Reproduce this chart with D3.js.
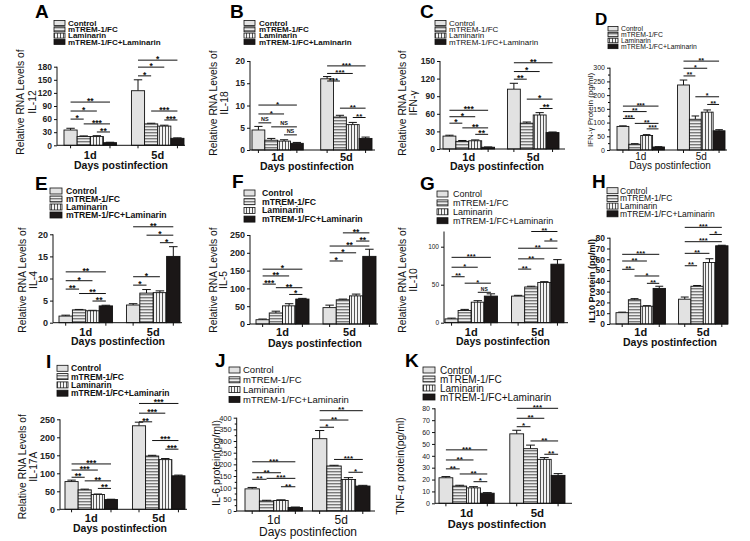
<!DOCTYPE html>
<html><head><meta charset="utf-8">
<script src="https://cdn.jsdelivr.net/npm/d3@7"></script>
<style>body{margin:0;background:#fff}svg{display:block}</style>
</head><body>
<svg id="c" width="750" height="541"></svg>
<script>
// ---------- DATA ----------
const days = ["1d", "5d"];
const seriesNames = ["Control", "mTREM-1/FC", "Laminarin", "mTREM-1/FC+Laminarin"];

// values ordered: 1d (Control, mTREM, Laminarin, Combo), 5d (same)
const il12Mean = [35, 20, 20, 6, 125, 49, 44, 16];
const il12Err  = [4, 1.5, 2, 1, 25, 1.5, 2, 1];
const il12Ticks = [0, 30, 60, 90, 120, 150, 180];
const il12Sig = [[0,0,1,60,"*"],[0,0,2,78.5,"*"],[0,0,3,99,"**"],[0,1,3,49,"***"],[0,2,3,30.5,"**"],
                 [1,0,1,159,"*"],[1,0,2,179,"*"],[1,0,3,195,"*"],[1,1,3,78.5,"***"],[1,2,3,58,"***"]];

const il18Mean = [4.5, 2.2, 2.0, 1.5, 16, 7.4, 5.7, 2.6];
const il18Err  = [0.8, 0.4, 0.3, 0.2, 0.5, 0.4, 0.5, 0.3];
const il18Ticks = [0, 5, 10, 15, 20];
const il18Sig = [[0,0,3,10.1,"*"],[0,0,2,8.1,"*"],[0,0,1,6.1,"NS"],[0,1,3,5.2,"NS"],[0,2,3,3.4,"NS"],
                 [1,0,3,18.9,"***"],[1,0,2,17.2,"***"],[1,0,1,15.5,"***"],[1,1,3,9.4,"**"],[1,2,3,7.3,"**"]];

const ifngMean = [22, 13, 14, 3, 102, 44, 58, 28];
const ifngErr  = [1.5, 1.5, 1.5, 0.5, 10, 2, 4, 1];
const ifngTicks = [0, 30, 60, 90, 120, 150];
const ifngSig = [[0,0,3,66,"***"],[0,0,2,55,"*"],[0,0,1,44,"*"],[0,1,3,36,"**"],[0,2,3,25,"**"],
                 [1,0,3,147,"**"],[1,0,2,132,"*"],[1,0,1,119,"**"],[1,1,3,85,"*"],[1,2,3,69,"**"]];

const ifngProtMean = [86, 21, 53, 11, 237, 112, 138, 70];
const ifngProtErr  = [2, 2, 3, 1, 18, 12, 8, 4];
const ifngProtTicks = [0, 50, 100, 150, 200, 250, 300];
const ifngProtMinor = [25, 75, 125, 175, 225, 275];
const ifngProtSig = [[0,0,3,160,"***"],[0,0,2,140,"**"],[0,0,1,115,"***"],[0,1,3,97,"**"],[0,2,3,77,"***"],
                     [1,0,3,324,"**"],[1,0,2,298,"*"],[1,0,1,270,"**"],[1,1,3,194,"*"],[1,2,3,166,"**"]];

const il4Mean = [1.5, 2.9, 2.7, 3.8, 4.0, 6.7, 6.8, 15];
const il4Err  = [0.2, 0.1, 0.1, 0.15, 0.3, 0.8, 0.4, 2.2];
const il4Ticks = [0, 5, 10, 15, 20];
const il4Sig = [[0,0,3,11.5,"**"],[0,0,2,9.5,"*"],[0,0,1,7.6,"**"],[0,1,3,6.6,"**"],[0,2,3,4.9,"**"],
                [1,0,3,21.7,"**"],[1,1,3,19.8,"*"],[1,2,3,18.1,"*"],[1,0,2,10.4,"*"],[1,0,1,8.5,"*"]];

const il5Mean = [12, 31, 51, 70, 46, 68, 79, 190];
const il5Err  = [2, 5, 6, 2, 7, 2, 5, 20];
const il5Ticks = [0, 50, 100, 150, 200, 250];
const il5Sig = [[0,0,3,154,"*"],[0,0,2,135,"**"],[0,0,1,112,"***"],[0,1,3,102,"**"],[0,2,3,83,"*"],
                [1,1,3,256,"**"],[1,2,3,233,"**"],[1,0,3,219,"**"],[1,0,2,200,"*"],[1,0,1,177,"*"]];

const il10Mean = [5, 16, 27, 35, 35, 47, 53, 77];
const il10Err  = [1, 1.5, 2, 3, 1, 1, 1, 6];
const il10Ticks = [0, 50, 100];
const il10Sig = [[0,0,3,86,"***"],[0,0,2,73,"*"],[0,0,1,60.5,"**"],[0,1,3,52,"*"],[0,2,3,40,"NS"],
                 [1,1,3,120,"**"],[1,2,3,107.5,"*"],[1,0,3,98,"**"],[1,0,2,84,"**"],[1,0,1,70.5,"**"]];

const il10ProtMean = [10.5, 22.5, 16.5, 33, 23, 35, 57, 72.5];
const il10ProtErr  = [0.5, 1, 0.5, 2, 2, 0.7, 3.5, 0.5];
const il10ProtTicks = [0, 10, 20, 30, 40, 50, 60, 70, 80];
const il10ProtSig = [[0,0,3,64.6,"***"],[0,0,2,58.4,"**"],[0,0,1,50.7,"**"],[0,1,3,44.5,"*"],[0,2,3,37.7,"**"],
                     [1,0,3,89.6,"***"],[1,2,3,83,"*"],[1,0,3,76.3,"***"],[1,0,2,65.5,"**"],[1,0,1,54,"**"]];

const il17Mean = [77, 54, 41, 27, 232, 148, 138, 93];
const il17Err  = [4, 2, 1.5, 1, 10, 2, 3, 2];
const il17Ticks = [0, 50, 100, 150, 200, 250];
const il17Sig = [[0,0,3,126,"***"],[0,0,2,109,"***"],[0,0,1,89,"**"],[0,1,3,79,"**"],[0,2,3,58,"**"],
                 [1,0,3,294,"***"],[1,0,2,267,"***"],[1,0,1,243,"**"],[1,1,3,191,"***"],[1,2,3,167,"***"]];

const il6Mean = [95, 43, 45, 15, 310, 193, 135, 107];
const il6Err  = [6, 3, 3, 2, 35, 3, 8, 3];
const il6Ticks = [0, 50, 100, 150, 200, 250, 300, 350, 400];
const il6Minor = [25, 75, 125, 175, 225, 275, 325, 375];
const il6Sig = [[0,0,3,211,"***"],[0,0,2,164,"**"],[0,0,1,136,"**"],[0,1,3,140,"***"],[0,2,3,104,"**"],
                [1,0,3,430,"**"],[1,0,2,390,"**"],[1,0,1,359,"*"],[1,1,3,221,"***"],[1,2,3,166,"*"]];

const tnfMean = [21.5, 14.5, 13, 8.5, 58.5, 46, 37, 23.5];
const tnfErr  = [1, 0.7, 1, 0.5, 3, 3, 1.5, 1.5];
const tnfTicks = [0, 10, 20, 30, 40, 50, 60, 70, 80];
const tnfSig = [[0,0,3,45,"***"],[0,0,2,36.5,"**"],[0,0,1,29,"**"],[0,1,3,24.7,"**"],[0,2,3,18.2,"*"],
                [1,0,3,80,"***"],[1,0,2,71.6,"**"],[1,0,1,64.5,"*"],[1,1,3,52.5,"**"],[1,2,3,41.3,"**"]];

// ---------- LAYOUT ----------
const FONT = "'Liberation Sans', Arial, Helvetica, sans-serif";
const panels = [
 {L:"A", lp:[35,18,19], leg:{x:54,y:23,dy:6.3,w:11,h:5,tx:68,fs:8,fw:"bold"},
  ax:57, xEnd:185, yTop:66.7, yZero:145.3, tickTop:180, axisTop:180, g1:[64,117], g2:[132,184], tfs:8.5, tfw:"bold",
  yl:{lines:["Relative RNA Levels of","IL-12"], xs:[20.5,32], cy:102, fs:10.3, fw:"normal"},
  xl:{by:159, fs:11, fw:"bold", dpx:121, dpy:169, dfs:10.5}, sfs:8.5,
  mean:il12Mean, err:il12Err, ticks:il12Ticks, minor:[], sig:il12Sig},
 {L:"B", lp:[230,18,19], leg:{x:244,y:23,dy:6.3,w:11,h:5,tx:259,fs:8,fw:"bold"},
  ax:250, xEnd:375, yTop:61, yZero:150, tickTop:20, axisTop:20, g1:[252,305], g2:[323,372], tfs:8.5, tfw:"bold",
  yl:{lines:["Relative RNA Levels of","IL-18"], xs:[213,224], cy:103, fs:10.3, fw:"normal"},
  xl:{by:160.5, fs:11, fw:"bold", dpx:307, dpy:169.5, dfs:10.5}, sfs:8,
  mean:il18Mean, err:il18Err, ticks:il18Ticks, minor:[], sig:il18Sig},
 {L:"C", lp:[420,18,19], leg:{x:435,y:23,dy:6.3,w:11,h:5,tx:449,fs:8,fw:"normal"},
  ax:440, xEnd:565, yTop:61, yZero:149, tickTop:150, axisTop:150, g1:[443,495], g2:[508,559], tfs:8.5, tfw:"bold",
  yl:{lines:["Relative RNA Levels of","IFN-γ"], xs:[402,413], cy:103, fs:10.3, fw:"normal"},
  xl:{by:160.5, fs:11, fw:"bold", dpx:497, dpy:169.5, dfs:10.5}, sfs:8.5,
  mean:ifngMean, err:ifngErr, ticks:ifngTicks, minor:[], sig:ifngSig},
 {L:"D", lp:[595,25,17], leg:{x:608,y:28.7,dy:5.9,w:10,h:4.5,tx:621,fs:6.8,fw:"normal"},
  ax:610, xEnd:727, yTop:67.7, yZero:150, tickTop:300, axisTop:300, g1:[617,664], g2:[677,725], tfs:7, tfw:"normal",
  yl:{lines:["IFN-γ  Protein (pg/ml)"], xs:[590], cy:110, fs:8, fw:"normal"},
  xl:{by:160, fs:10, fw:"normal", dpx:670, dpy:169, dfs:10}, sfs:7,
  mean:ifngProtMean, err:ifngProtErr, ticks:ifngProtTicks, minor:ifngProtMinor, sig:ifngProtSig},
 {L:"E", lp:[35,190,19], leg:{x:50,y:191,dy:8,w:12,h:6,tx:66,fs:8.7,fw:"bold"},
  ax:53, xEnd:182, yTop:234.3, yZero:322.7, tickTop:20, axisTop:20, g1:[59,113], g2:[127,180], tfs:9, tfw:"bold",
  yl:{lines:["Relative RNA Levels of","IL-4"], xs:[22,33], cy:280, fs:10.3, fw:"normal"},
  xl:{by:335.5, fs:11, fw:"bold", dpx:118, dpy:344.5, dfs:10.5}, sfs:8.5,
  mean:il4Mean, err:il4Err, ticks:il4Ticks, minor:[], sig:il4Sig},
 {L:"F", lp:[232,188,19], leg:{x:244,y:193,dy:8.7,w:11,h:6,tx:262,fs:8.7,fw:"bold"},
  ax:250, xEnd:378, yTop:235, yZero:324, tickTop:250, axisTop:250, g1:[256,309], g2:[323,376], tfs:9, tfw:"bold",
  yl:{lines:["Relative RNA Levels of","IL-5"], xs:[213,223], cy:280, fs:10.3, fw:"normal"},
  xl:{by:336, fs:11, fw:"bold", dpx:315, dpy:346.5, dfs:10.5}, sfs:8.5,
  mean:il5Mean, err:il5Err, ticks:il5Ticks, minor:[], sig:il5Sig},
 {L:"G", lp:[420,190,19], leg:{x:437,y:194,dy:8.9,w:11,h:6,tx:453,fs:9,fw:"normal"},
  ax:444, xEnd:568, yTop:246.7, yZero:322.7, tickTop:100, axisTop:120, g1:[445,497], g2:[511,564], tfs:6.5, tfw:"normal",
  yl:{lines:["Relative RNA Levels of","IL-10"], xs:[402,413], cy:280, fs:10.3, fw:"normal"},
  xl:{by:335.5, fs:11, fw:"bold", dpx:503, dpy:345, dfs:10.5}, sfs:7.5,
  mean:il10Mean, err:il10Err, ticks:il10Ticks, minor:[], sig:il10Sig},
 {L:"H", lp:[592,188,19], leg:{x:607,y:190.7,dy:7.7,w:11,h:6,tx:620,fs:8.5,fw:"normal"},
  ax:610, xEnd:728, yTop:237.7, yZero:324, tickTop:80, axisTop:80, g1:[616,665], g2:[678,728], tfs:8.5, tfw:"bold",
  yl:{lines:["IL10 Protein (pg/ml)"], xs:[592], cy:281, fs:9, fw:"bold"},
  xl:{by:335.5, fs:11, fw:"bold", dpx:670, dpy:346, dfs:10.5}, sfs:7.5,
  mean:il10ProtMean, err:il10ProtErr, ticks:il10ProtTicks, minor:[], sig:il10ProtSig},
 {L:"I", lp:[46,368,19], leg:{x:57,y:368.3,dy:8.3,w:11,h:6,tx:71,fs:8.5,fw:"bold"},
  ax:60, xEnd:187, yTop:419.3, yZero:509.3, tickTop:250, axisTop:250, g1:[65,118], g2:[133,185], tfs:9, tfw:"bold",
  yl:{lines:["Relative RNA Levels of","IL-17A"], xs:[22,33], cy:466.7, fs:10.3, fw:"normal"},
  xl:{by:521.5, fs:11, fw:"bold", dpx:120, dpy:532, dfs:10.5}, sfs:8.5,
  mean:il17Mean, err:il17Err, ticks:il17Ticks, minor:[], sig:il17Sig},
 {L:"J", lp:[215,367,19], leg:{x:229,y:370,dy:9.8,w:11,h:6,tx:243,fs:9.5,fw:"normal"},
  ax:236.7, xEnd:375, yTop:417.7, yZero:511, tickTop:400, axisTop:400, g1:[245,303], g2:[313,370], tfs:7.5, tfw:"normal",
  yl:{lines:["IL-6 protein(pg/ml)"], xs:[216.7], cy:463, fs:10.5, fw:"normal"},
  xl:{by:524, fs:12, fw:"normal", dpx:308, dpy:536, dfs:12}, sfs:8,
  mean:il6Mean, err:il6Err, ticks:il6Ticks, minor:il6Minor, sig:il6Sig},
 {L:"K", lp:[405,367,19], leg:{x:423,y:370,dy:9,w:12,h:6,tx:440,fs:10,fw:"normal"},
  ax:435, xEnd:572, yTop:408.3, yZero:503.3, tickTop:80, axisTop:80, g1:[439,492], g2:[507,565], tfs:7, tfw:"normal",
  yl:{lines:["TNF-α  protein(pg/ml)"], xs:[400], cy:466, fs:10.5, fw:"normal"},
  xl:{by:516.5, fs:11.5, fw:"bold", dpx:497, dpy:528, dfs:11}, sfs:8,
  mean:tnfMean, err:tnfErr, ticks:tnfTicks, minor:[], sig:tnfSig}
];

// ---------- DRAW ----------
const svg = d3.select("#c").style("font-family", FONT);
svg.append("rect").attr("width",750).attr("height",541).attr("fill","#fff");
const defs = svg.append("defs");
const ph = defs.append("pattern").attr("id","hstripe").attr("patternUnits","userSpaceOnUse").attr("width",4).attr("height",3);
ph.append("rect").attr("width",4).attr("height",3).attr("fill","#eeeeee");
ph.append("rect").attr("width",4).attr("height",1.4).attr("fill","#7a7a7a");
const pv = defs.append("pattern").attr("id","vstripe").attr("patternUnits","userSpaceOnUse").attr("width",3).attr("height",4);
pv.append("rect").attr("width",3).attr("height",4).attr("fill","#f3f3f3");
pv.append("rect").attr("width",1).attr("height",4).attr("fill","#555");
const fills = ["#e2e2e2", "url(#hstripe)", "url(#vstripe)", "#1b1717"];

panels.forEach(p => {
  const g = svg.append("g");
  const y = d3.scaleLinear().domain([0, p.tickTop]).range([p.yZero, p.yTop]);
  const step = p.g2[0] - p.g1[0], band = p.g1[1] - p.g1[0];
  const outer = d3.scaleBand().domain(days).range([p.g1[0], p.g2[1]]).paddingInner(1 - band/step).paddingOuter(0);
  const inner = d3.scaleBand().domain(seriesNames).range([0, outer.bandwidth()]);
  const rows = days.flatMap((d, di) => seriesNames.map((s, si) => ({d, s, di, si, v: p.mean[di*4+si], e: p.err[di*4+si]})));
  const bx = r => outer(r.d) + inner(r.s);
  const bc = (di, si) => outer(days[di]) + inner(seriesNames[si]) + inner.bandwidth()/2;

  // error bars
  g.selectAll(".eb").data(rows).join("path")
    .attr("d", r => {
      const cx = bx(r) + inner.bandwidth()/2, w = inner.bandwidth()*0.32;
      return `M${cx},${y(r.v)}V${y(r.v + r.e)}M${cx-w},${y(r.v + r.e)}H${cx+w}`;
    }).attr("stroke","#111").attr("stroke-width",1).attr("fill","none");
  // bars
  g.selectAll(".bar").data(rows).join("rect")
    .attr("x", bx).attr("width", inner.bandwidth())
    .attr("y", r => y(r.v)).attr("height", r => y(0) - y(r.v))
    .attr("fill", r => fills[r.si]).attr("stroke","#111").attr("stroke-width",0.9);

  // y axis
  const yAx = g.append("g").attr("transform", `translate(${p.ax},0)`)
    .call(d3.axisLeft(y).tickValues(p.ticks).tickSize(3).tickSizeOuter(0).tickPadding(2));
  yAx.select(".domain").remove();
  yAx.selectAll("text").attr("font-size", p.tfs).attr("font-weight", p.tfw).attr("font-family", FONT).attr("fill","#222");
  yAx.selectAll("line").attr("stroke","#111");
  if (p.minor.length) {
    const mAx = g.append("g").attr("transform", `translate(${p.ax},0)`)
      .call(d3.axisLeft(y).tickValues(p.minor).tickSize(2).tickFormat(""));
    mAx.select(".domain").remove();
  }
  g.append("line").attr("x1",p.ax).attr("x2",p.ax).attr("y1",y(0)).attr("y2",y(p.axisTop)).attr("stroke","#111").attr("stroke-width",1);
  // x axis
  g.append("line").attr("x1",p.ax).attr("x2",p.xEnd).attr("y1",y(0)).attr("y2",y(0)).attr("stroke","#111").attr("stroke-width",1);
  days.forEach(d => {
    [outer(d) + inner.bandwidth()*0.5, outer(d) + outer.bandwidth() - inner.bandwidth()*0.5].forEach(tx => {
      g.append("line").attr("x1",tx).attr("x2",tx).attr("y1",y(0)).attr("y2",y(0)+3).attr("stroke","#111");
    });
    g.append("text").attr("x", outer(d) + outer.bandwidth()/2).attr("y", p.xl.by)
      .attr("text-anchor","middle").attr("font-size",p.xl.fs).attr("font-weight",p.xl.fw).attr("fill","#111").text(d);
  });
  g.append("text").attr("x", p.xl.dpx).attr("y", p.xl.dpy).attr("text-anchor","middle")
    .attr("font-size", p.xl.dfs).attr("font-weight", p.xl.fw).attr("fill","#111").text("Days postinfection");

  // y label
  p.yl.lines.forEach((t, i) => {
    g.append("text").attr("transform", `translate(${p.yl.xs[i]},${p.yl.cy}) rotate(-90)`)
      .attr("dy","0.35em").attr("text-anchor","middle").attr("font-size",p.yl.fs).attr("font-weight",p.yl.fw)
      .attr("fill","#111").text(t);
  });

  // significance brackets
  p.sig.forEach(([di, a, b, v, lab]) => {
    const x1 = bc(di, a), x2 = bc(di, b), yy = y(v);
    g.append("line").attr("x1",x1).attr("x2",x2).attr("y1",yy).attr("y2",yy).attr("stroke","#111").attr("stroke-width",1);
    const isNS = lab === "NS";
    g.append("text").attr("x",(x1+x2)/2).attr("y", isNS ? yy - 1.5 : yy + p.sfs*0.22).attr("text-anchor","middle")
      .attr("font-size", isNS ? p.sfs - 2.5 : p.sfs).attr("font-weight", "bold").attr("fill","#111").text(lab);
  });

  // legend
  seriesNames.forEach((s, i) => {
    const cy = p.leg.y + i*p.leg.dy;
    g.append("rect").attr("x",p.leg.x).attr("y",cy - p.leg.h/2).attr("width",p.leg.w).attr("height",p.leg.h)
      .attr("fill", fills[i]).attr("stroke","#111").attr("stroke-width",0.8);
    g.append("text").attr("x",p.leg.tx).attr("y",cy).attr("dy","0.35em").attr("font-size",p.leg.fs)
      .attr("font-weight",p.leg.fw).attr("fill","#111").text(s);
  });

  // panel letter
  g.append("text").attr("x",p.lp[0]).attr("y",p.lp[1]).attr("font-size",p.lp[2]).attr("font-weight","bold")
    .attr("fill","#000").text(p.L);
});
</script>
</body></html>
